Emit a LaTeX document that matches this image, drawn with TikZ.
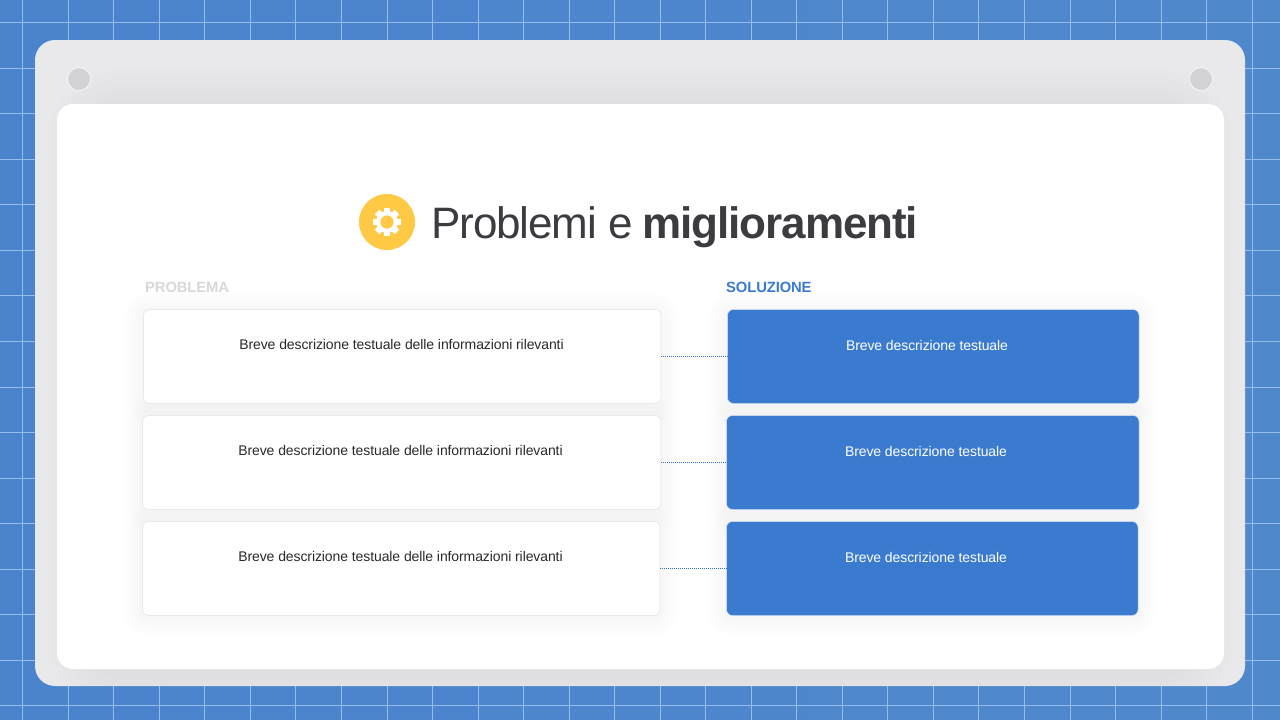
\documentclass[tikz,border=0pt]{standalone}
\usepackage{fontspec}
\setmainfont{Liberation Sans}
\newfontfamily\titlefont[LetterSpace=-2.5]{Liberation Sans}
\newfontfamily\bodyfont[LetterSpace=-0.7]{Liberation Sans}
\newfontfamily\headfont[LetterSpace=-0.8]{Liberation Sans}
\definecolor{cardblue}{HTML}{3A7BD0}
\definecolor{bgA}{HTML}{4A84CD}
\definecolor{bgM}{HTML}{4A80C3}
\definecolor{bgB}{HTML}{5088CC}
\definecolor{gridc}{HTML}{94BDEC}
\definecolor{panelA}{HTML}{E9E9EB}
\definecolor{hole}{HTML}{D2D2D4}
\definecolor{gold}{HTML}{FFC845}
\definecolor{ink}{HTML}{3B3B40}
\definecolor{txt}{HTML}{2A2A2E}
\definecolor{mute}{HTML}{D8D8DB}
\definecolor{edge}{HTML}{E9E9EC}
\definecolor{dotc}{HTML}{2F6FC4}
% x0 y0 x1 y1 radius opacity steps stepsize
\newcommand{\softshadow}[8]{%
  \foreach \s in {1,...,#7}{
    \fill[black,opacity=#6,rounded corners=#5pt+\s*#8*1pt]
      (#1-\s*#8,#2-\s*#8+3) rectangle (#3+\s*#8,#4+\s*#8+3);
  }}
\tikzset{
  x=1pt,y=-1pt,
  gridline/.style={gridc,line width=1pt},
  probcard/.style={draw=edge,line width=.8pt,fill=white,rounded corners=6pt,inner sep=0pt,outer sep=0pt,anchor=north west,minimum height=94pt},
  solcard/.style={draw=white!75!cardblue,line width=.5pt,fill=cardblue,rounded corners=6pt,inner sep=0pt,outer sep=0pt,anchor=north west,minimum height=94pt},
  probtext/.style={text=txt,font=\bodyfont\fontsize{14}{17}\selectfont,inner sep=0pt},
  soltext/.style={text=white,font=\bodyfont\fontsize{14}{17}\selectfont,inner sep=0pt},
  heading/.style={font=\headfont\bfseries\fontsize{14.8}{18}\selectfont,inner sep=0pt,anchor=west},
  link/.style={dotc,line width=1pt,dash pattern=on 1pt off 1pt},
  holedot/.style={circle,fill=hole,draw=white!60!panelA,line width=.8pt,minimum size=23pt,inner sep=0pt},
}
\begin{document}
\begin{tikzpicture}
\useasboundingbox (0,0) rectangle (1280,720);
% background
\shade[left color=bgA,middle color=bgM,right color=bgB] (0,0) rectangle (1280,720);
\foreach \i in {0,...,27}{\draw[gridline] ({22.8+45.53*\i},0) -- ({22.8+45.53*\i},720);}
\foreach \i in {0,...,15}{\draw[gridline] (0,{22.8+45.53*\i}) -- (1280,{22.8+45.53*\i});}
% outer panel
\fill[rounded corners=20pt,panelA] (35,40) rectangle (1245,686);
\begin{scope}
\clip[rounded corners=20pt] (35,40) rectangle (1245,686);
\softshadow{90}{108}{1190}{665}{30}{.005}{11}{4}
\end{scope}
\fill[rounded corners=16pt,white] (57,104) rectangle (1224,669);
\node[holedot] (holeL) at (79,79) {};
\node[holedot] (holeR) at (1201,79) {};
% title
\node[circle,fill=gold,minimum size=56pt,inner sep=0pt] (badge) at (387,222) {};
\fill[white] (badge.center) circle (11);
\foreach \a in {0,45,...,315}{
  \fill[white,rotate around={\a:(badge.center)}] ([xshift=-3.2pt,yshift=8pt]badge.center) rectangle ([xshift=3.2pt,yshift=14pt]badge.center);
}
\fill[gold] (badge.center) circle (6.6);
\node[anchor=base west,inner sep=0pt,text=ink,font=\titlefont\fontsize{44}{50}\selectfont] (title) at (431,238) {Problemi e \textbf{miglioramenti}};
% shadows
\softshadow{143}{309}{660}{403}{6}{.0035}{8}{2.4}
\softshadow{142}{415}{660}{509}{6}{.0035}{8}{2.4}
\softshadow{142}{521}{659}{614}{6}{.0035}{8}{2.4}
\softshadow{727}{309}{1138}{403}{6}{.0035}{8}{2.4}
\softshadow{726}{415}{1138}{509}{6}{.0035}{8}{2.4}
\softshadow{726}{521}{1137}{614}{6}{.0035}{8}{2.4}
% headings
\node[heading,text=mute] (hp) at (145,287.5) {PROBLEMA};
\node[heading,text=cardblue] (hs) at (726,287.5) {SOLUZIONE};
% cards
\node[probcard,minimum width=517.5pt] (p1) at (143.5,309.5) {};
\node[probcard,minimum width=518.5pt] (p2) at (142.5,415.5) {};
\node[probcard,minimum width=517.5pt] (p3) at (142.5,521.5) {};
\node[solcard,minimum width=411.5pt] (s1) at (727.5,309.5) {};
\node[solcard,minimum width=412.5pt] (s2) at (726.5,415.5) {};
\node[solcard,minimum width=411.5pt] (s3) at (726.5,521.5) {};
% connectors
\draw[link] (p1.east) -- (s1.west);
\draw[link] (p2.east) -- (s2.west);
\draw[link] (p3.east) -- (s3.west);
% texts
\node[probtext] (tp1) at (401.5,344.5) {Breve descrizione testuale delle informazioni rilevanti};
\node[probtext] (tp2) at (400.5,450) {Breve descrizione testuale delle informazioni rilevanti};
\node[probtext] (tp3) at (400.5,556) {Breve descrizione testuale delle informazioni rilevanti};
\node[soltext] (ts1) at (927,345.5) {Breve descrizione testuale};
\node[soltext] (ts2) at (926,451) {Breve descrizione testuale};
\node[soltext] (ts3) at (926,557) {Breve descrizione testuale};
\end{tikzpicture}
\end{document}
